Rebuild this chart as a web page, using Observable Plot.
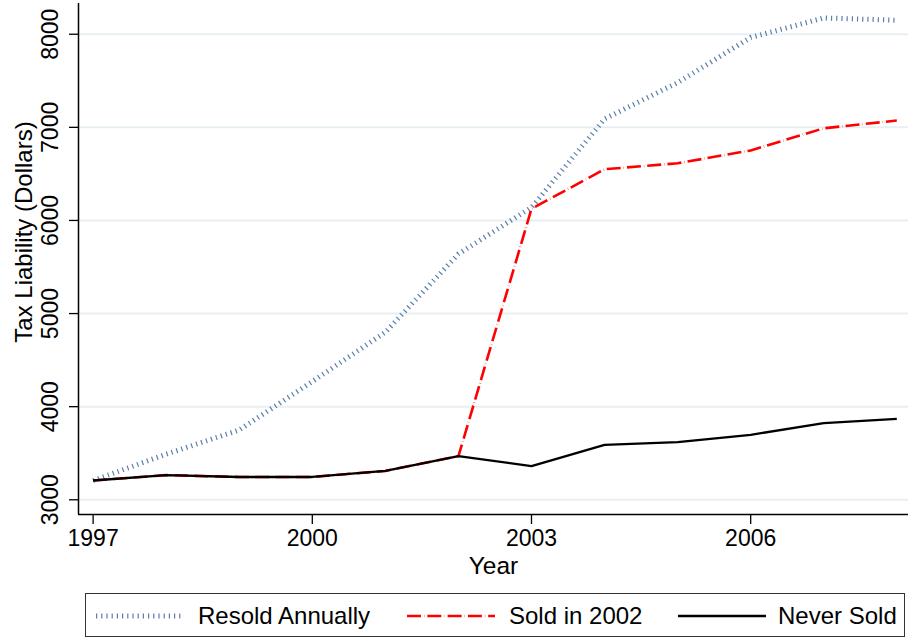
<!DOCTYPE html>
<html>
<head>
<meta charset="utf-8">
<script src="https://cdn.jsdelivr.net/npm/d3@7"></script>
<script src="https://cdn.jsdelivr.net/npm/@observablehq/plot@0.6"></script>
<style>
  html, body { margin: 0; padding: 0; background: #ffffff; }
  body { width: 908px; font-family: "Liberation Sans", Arial, Helvetica, sans-serif; }
  #legend {
    position: relative;
    margin-left: 85px;
    margin-top: 8px;
    width: 818px;
    height: 42px;
    border: 1.5px solid #333;
    box-sizing: content-box;
  }
  #legend .item { position: absolute; top: 0; height: 44px; display: flex; align-items: center; }
  #legend .label { font-size: 24px; color: #000; }
  #legend svg { display: block; }
</style>
</head>
<body>
<div id="chart"></div>
<div id="legend"></div>
<script>
// Average property tax liability by year under three ownership histories
const years      = [1997, 1998, 1999, 2000, 2001, 2002, 2003, 2004, 2005, 2006, 2007, 2008];
const resold     = [3207, 3490, 3750, 4270, 4800, 5640, 6140, 7090, 7480, 7965, 8175, 8150];
const sold2002   = [3207, 3265, 3245, 3245, 3310, 3468, 6125, 6550, 6614, 6752, 6990, 7073];
const neverSold  = [3207, 3265, 3245, 3245, 3310, 3468, 3362, 3590, 3619, 3698, 3823, 3870];

const seriesNames = ["Resold Annually", "Sold in 2002", "Never Sold"];
const yTicks = [3000, 4000, 5000, 6000, 7000, 8000];
const xTicks = [1997, 2000, 2003, 2006];
const xDomain = [1996.8, 2008.16];
const yDomain = [2842, 8330];

const styles = {
  "Resold Annually": {stroke: "#5a7ea8", strokeWidth: 5, strokeDasharray: "1.2,4"},
  "Sold in 2002":    {stroke: "#ff0000", strokeWidth: 2.6, strokeDasharray: "14,3,0.3,3"},
  "Never Sold":      {stroke: "#000000", strokeWidth: 2.3, strokeDasharray: null}
};

const rows = (vals) => years.map((year, i) => ({year, value: vals[i]}));
const seriesData = {
  "Resold Annually": rows(resold),
  "Sold in 2002": rows(sold2002),
  "Never Sold": rows(neverSold)
};

const lineMark = (name) => Plot.line(seriesData[name], {
  x: "year", y: "value",
  stroke: styles[name].stroke,
  strokeWidth: styles[name].strokeWidth,
  strokeDasharray: styles[name].strokeDasharray || undefined,
  strokeLinecap: "butt",
  strokeLinejoin: "round"
});

const chart = Plot.plot({
  width: 908,
  height: 585,
  marginLeft: 78,
  marginRight: 0,
  marginTop: 3,
  marginBottom: 71,
  style: {fontFamily: "'Liberation Sans', Arial, Helvetica, sans-serif", background: "#ffffff", color: "#000"},
  x: {domain: xDomain},
  y: {domain: yDomain},
  marks: [
    Plot.gridY(yTicks, {stroke: "#e8eff2", strokeOpacity: 1, strokeWidth: 2}),
    lineMark("Resold Annually"),
    lineMark("Sold in 2002"),
    lineMark("Never Sold"),
    Plot.ruleX([xDomain[0]], {stroke: "#000", strokeWidth: 1.5}),
    Plot.ruleY([yDomain[0]], {stroke: "#000", strokeWidth: 1.5}),
    Plot.axisY(yTicks, {
      tickRotate: -90, tickSize: 9, tickPadding: 12, fontSize: 23,
      tickFormat: d => String(d), label: null, stroke: "#000", strokeWidth: 1.3
    }),
    Plot.axisX(xTicks, {
      tickSize: 10, tickPadding: 5, fontSize: 23,
      tickFormat: d => String(d), label: null, stroke: "#000", strokeWidth: 1.3
    }),
    Plot.text(["Tax Liability (Dollars)"], {
      frameAnchor: "left", rotate: -90, dx: -47, dy: -27, textAnchor: "middle",
      lineAnchor: "bottom", fontSize: 24, fill: "#000"
    }),
    Plot.text(["Year"], {
      frameAnchor: "bottom", dy: 59, textAnchor: "middle",
      lineAnchor: "bottom", fontSize: 24.5, fill: "#000"
    })
  ]
});
document.getElementById("chart").appendChild(chart);

// Legend: line sample followed by series name
const legend = document.getElementById("legend");
const legendPos = [
  {sample: 10, text: 112, len: 86},
  {sample: 321, text: 423, len: 88},
  {sample: 592, text: 692, len: 88}
];
seriesNames.forEach((name, i) => {
  const s = styles[name];
  const p = legendPos[i];
  const sampleItem = document.createElement("div");
  sampleItem.className = "item";
  sampleItem.style.left = p.sample + "px";
  const w = p.len;
  const ns = "http://www.w3.org/2000/svg";
  const svg = document.createElementNS(ns, "svg");
  svg.setAttribute("width", w);
  svg.setAttribute("height", 12);
  const ln = document.createElementNS(ns, "line");
  ln.setAttribute("x1", 0); ln.setAttribute("x2", w);
  ln.setAttribute("y1", 6); ln.setAttribute("y2", 6);
  ln.setAttribute("stroke", s.stroke);
  ln.setAttribute("stroke-width", s.strokeWidth);
  if (s.strokeDasharray) ln.setAttribute("stroke-dasharray", s.strokeDasharray);
  svg.appendChild(ln);
  sampleItem.appendChild(svg);
  legend.appendChild(sampleItem);

  const textItem = document.createElement("div");
  textItem.className = "item";
  textItem.style.left = p.text + "px";
  const label = document.createElement("span");
  label.className = "label";
  label.textContent = name;
  textItem.appendChild(label);
  legend.appendChild(textItem);
});
</script>
</body>
</html>
